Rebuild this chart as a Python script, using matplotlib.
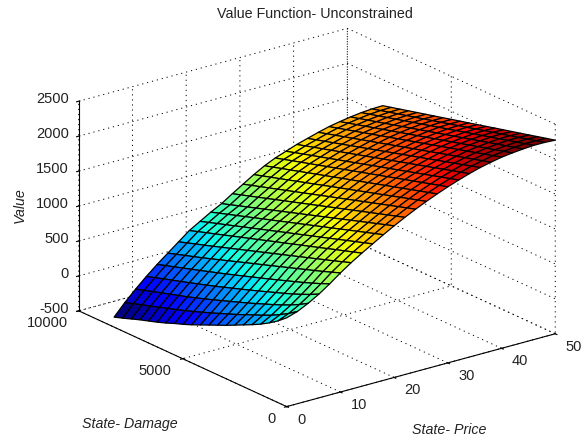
import matplotlib
matplotlib.use("Agg")
import matplotlib.pyplot as plt
from mpl_toolkits.mplot3d import proj3d
import numpy as np

plt.rcParams['font.family'] = ['Liberation Sans', 'DejaVu Sans']

# axis ticks
price_ticks = [0, 10, 20, 30, 40, 50]
damage_ticks = [0, 5000, 10000]
value_ticks = [-500, 0, 500, 1000, 1500, 2000, 2500]

# grid of the surface
prices = [0, 2, 4, 6, 8, 10, 12, 14, 16, 18, 20, 22, 24, 26, 28, 30, 32, 34, 36, 38, 40, 42, 44, 46, 48, 50]
damages = [0, 415, 830, 1245, 1660, 2075, 2490, 2905, 3320, 3735, 4150, 4565, 4980, 5395, 5810, 6225, 6640, 7055, 7470, 7885, 8300]

# one row per price, one column per damage
values = [
    [771, 670, 585, 510, 445, 385, 325, 265, 210, 155, 100, 45, -5, -50, -100, -145, -185, -225, -270, -315, -357],
    [820, 734, 661, 595, 538, 485, 431, 378, 328, 279, 229, 183, 135, 92, 48, 9, -31, -71, -110, -150, -190],
    [895, 821, 757, 700, 648, 599, 549, 501, 455, 409, 364, 319, 275, 233, 191, 153, 115, 76, 37, -1, -40],
    [985, 923, 867, 815, 768, 722, 677, 631, 587, 543, 500, 457, 414, 374, 334, 294, 255, 217, 179, 139, 100],
    [1090, 1036, 986, 938, 893, 849, 805, 761, 718, 676, 633, 591, 549, 508, 468, 428, 388, 349, 309, 270, 230],
    [1205, 1158, 1112, 1068, 1025, 982, 939, 896, 853, 810, 768, 725, 682, 639, 596, 553, 511, 470, 431, 390, 350],
    [1310, 1265, 1222, 1180, 1138, 1096, 1054, 1012, 970, 928, 886, 844, 802, 760, 718, 676, 634, 592, 553, 511, 470],
    [1405, 1364, 1323, 1283, 1242, 1201, 1160, 1120, 1079, 1038, 998, 957, 916, 875, 835, 794, 753, 712, 672, 631, 590],
    [1495, 1454, 1413, 1373, 1332, 1291, 1250, 1210, 1169, 1128, 1088, 1047, 1006, 965, 925, 884, 843, 802, 762, 721, 680],
    [1585, 1544, 1503, 1463, 1422, 1381, 1340, 1300, 1259, 1218, 1178, 1137, 1096, 1055, 1015, 974, 933, 892, 852, 811, 770],
    [1670, 1629, 1588, 1547, 1506, 1465, 1424, 1383, 1342, 1301, 1260, 1219, 1178, 1137, 1096, 1055, 1014, 973, 932, 891, 850],
    [1750, 1710, 1670, 1630, 1590, 1550, 1510, 1470, 1430, 1390, 1350, 1310, 1270, 1230, 1190, 1150, 1110, 1070, 1030, 990, 950],
    [1825, 1786, 1747, 1708, 1669, 1630, 1591, 1552, 1513, 1474, 1435, 1396, 1357, 1318, 1279, 1240, 1201, 1162, 1123, 1084, 1045],
    [1895, 1857, 1820, 1782, 1744, 1706, 1668, 1631, 1593, 1555, 1518, 1480, 1442, 1404, 1366, 1329, 1291, 1253, 1216, 1178, 1140],
    [1960, 1923, 1887, 1850, 1813, 1776, 1740, 1703, 1666, 1629, 1593, 1556, 1519, 1482, 1446, 1409, 1372, 1335, 1299, 1262, 1225],
    [2020, 1984, 1948, 1911, 1875, 1839, 1803, 1766, 1730, 1694, 1658, 1621, 1585, 1549, 1513, 1476, 1440, 1404, 1368, 1331, 1295],
    [2075, 2039, 2003, 1966, 1930, 1894, 1858, 1821, 1785, 1749, 1713, 1676, 1640, 1604, 1568, 1531, 1495, 1459, 1423, 1386, 1350],
    [2125, 2089, 2053, 2017, 1981, 1945, 1909, 1873, 1837, 1801, 1765, 1729, 1693, 1657, 1621, 1585, 1549, 1513, 1477, 1441, 1405],
    [2170, 2134, 2098, 2062, 2026, 1990, 1954, 1918, 1882, 1846, 1810, 1774, 1738, 1702, 1666, 1630, 1594, 1558, 1522, 1486, 1450],
    [2205, 2170, 2134, 2099, 2063, 2028, 1992, 1957, 1921, 1886, 1850, 1815, 1779, 1744, 1708, 1673, 1637, 1602, 1566, 1531, 1495],
    [2235, 2200, 2165, 2130, 2095, 2060, 2025, 1990, 1955, 1920, 1885, 1850, 1815, 1780, 1745, 1710, 1675, 1640, 1605, 1570, 1535],
    [2255, 2221, 2186, 2152, 2117, 2083, 2048, 2014, 1979, 1945, 1910, 1876, 1841, 1807, 1772, 1738, 1703, 1669, 1634, 1600, 1565],
    [2270, 2236, 2202, 2168, 2134, 2100, 2066, 2032, 1998, 1964, 1930, 1896, 1862, 1828, 1794, 1760, 1726, 1692, 1658, 1624, 1590],
    [2280, 2247, 2213, 2180, 2146, 2113, 2079, 2046, 2012, 1979, 1945, 1912, 1878, 1845, 1811, 1778, 1744, 1711, 1677, 1644, 1610],
    [2280, 2247, 2214, 2181, 2148, 2116, 2083, 2050, 2017, 1984, 1951, 1918, 1885, 1852, 1819, 1787, 1754, 1721, 1688, 1655, 1622],
    [2271, 2239, 2207, 2174, 2142, 2110, 2078, 2046, 2013, 1981, 1949, 1917, 1885, 1852, 1820, 1788, 1756, 1724, 1691, 1659, 1627],
]

X, Y = np.meshgrid(prices, damages, indexing='ij')
Z = np.array(values)

fig = plt.figure(figsize=(5.81, 4.44), dpi=100)
ax = fig.add_axes([20.5 / 581, -1.5 / 444, 1, 1], projection='3d', proj_type='ortho')
ax.view_init(elev=20.7, azim=-127.5)
ax.set_box_aspect((340, 343, 225), zoom=1.16)

surf = ax.plot_surface(X, Y, Z, cmap='jet', rstride=1, cstride=1, edgecolor='black',
                       linewidth=0.9, shade=False, antialiased=True)
# the 3d axes box is square, the surface runs past it
surf.set_clip_on(False)

ax.set_xlim(0, 50)
ax.set_ylim(0, 10000)
ax.set_zlim(-500, 2500)
ax.set_xticks(price_ticks)
ax.set_yticks(damage_ticks)
ax.set_zticks(value_ticks)
ax.set_xticklabels([])
ax.set_yticklabels([])
ax.set_zticklabels([])

# white walls and dotted grid like the original
for axis in (ax.xaxis, ax.yaxis, ax.zaxis):
    axis.set_pane_color((1, 1, 1, 0))
    axis.pane.set_edgecolor((1, 1, 1, 0))
    axis._axinfo['grid'].update(color='black', linewidth=0.7, linestyle=(0, (1.2, 4)))
    axis._axinfo['tick'].update(inward_factor=0.1, outward_factor=0.05)
    axis._axinfo['axisline']['color'] = 'black'
ax.zaxis.set_ticks_position('upper')

# tick labels sit at a fixed pixel offset from the tick, matlab style
def tick_label(x, y, z, text, dx, dy, ha):
    px, py, _ = proj3d.proj_transform(x, y, z, ax.get_proj())
    ann = ax.annotate(text, (px, py), xytext=(dx, dy), textcoords='offset pixels',
                      ha=ha, va='center', fontsize=10.5, color='#222222', annotation_clip=False)
    ann.set_clip_on(False)

for p in price_ticks:
    tick_label(p, 0, -500, str(p), 10.5, -13, 'left')
for d in damage_ticks:
    tick_label(0, d, -500, str(d), -11, -12, 'right')
for v in value_ticks:
    tick_label(0, 10000, v, str(v), -10, 2, 'right')

fig.text(314.5 / 581, 1 - 14 / 444, 'Value Function- Unconstrained', fontsize=10.3, color='#222222', ha='center', va='center')
fig.text(130 / 581, 1 - 424 / 444, 'State- Damage', style='italic', fontsize=10.3, color='#222222', ha='center', va='center')
fig.text(449 / 581, 1 - 430 / 444, 'State- Price', style='italic', fontsize=10.3, color='#222222', ha='center', va='center')
fig.text(20 / 581, 1 - 205 / 444, 'Value', style='italic', fontsize=10.3, color='#222222', rotation=90, ha='center', va='center')

fig.savefig('out.png', dpi=100)
